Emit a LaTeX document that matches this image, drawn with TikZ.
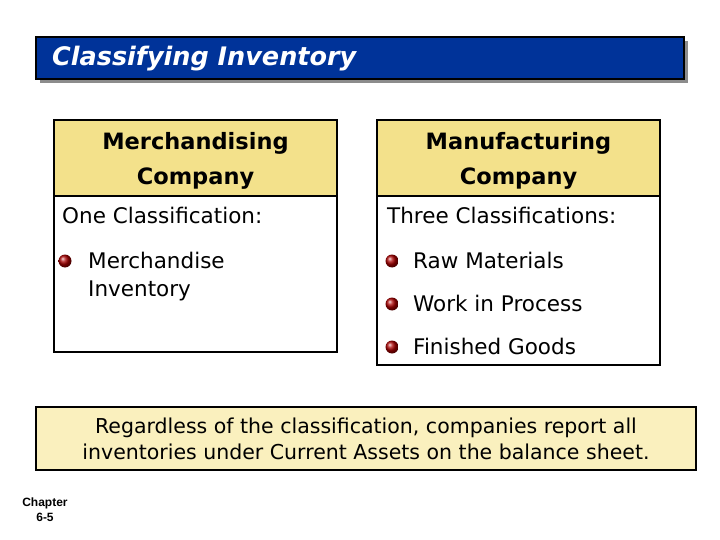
\documentclass[tikz,border=0pt]{standalone}
\usepackage{fontspec}
\setmainfont{DejaVu Sans}
\newfontfamily\chapfont{Liberation Sans}
\usepackage{tikz}
\usetikzlibrary{shadows}
\definecolor{titleblue}{RGB}{0,51,153}
\definecolor{hdryellow}{RGB}{243,225,139}
\definecolor{notebg}{RGB}{250,240,190}
\definecolor{bulletred}{RGB}{170,0,0}

\begin{document}
\begin{tikzpicture}[x=1pt, y=-1pt,
    every node/.style={inner sep=0pt},
    titlebar/.style={draw=black, line width=1.5pt, fill=titleblue,
                     minimum width=648pt, minimum height=42pt,
                     drop shadow={shadow xshift=4pt, shadow yshift=-4pt, fill=gray!90, opacity=1}},
    hdr/.style={draw, line width=2pt, fill=hdryellow, minimum width=283pt,
                minimum height=76pt},
    hdrtext/.style={align=center, font=\fontsize{22.5}{35}\selectfont\bfseries},
    body/.style={draw, line width=2pt, fill=white, minimum width=283pt},
    item/.style={anchor=west, align=left, font=\fontsize{21.5}{28}\selectfont},
    bullet/.style={circle, minimum size=13pt, shading=ball, ball color=bulletred},
    note/.style={draw, line width=2pt, fill=notebg, minimum width=660pt,
                 minimum height=63pt, align=center, font=\fontsize{20.5}{26}\selectfont},
]
    \useasboundingbox (0,0) rectangle (720,540);

    % Title
    \node[titlebar] (title) at (360,58) {};
    \node[anchor=west, text=white, font=\fontsize{25.5}{30}\selectfont\bfseries\itshape]
        (titletext) at (52,59) {Classifying Inventory};

    % Left column: merchandising
    \node[body, minimum height=156pt] (mbody) at (195.5,274) {};
    \node[hdr] (mhdr) at (195.5,158) {};
    \node[hdrtext] (mhdrtext) at (195.5,161) {Merchandising\\Company};
    \node[item] (mone) at (62,215) {One Classification:};
    \node[bullet] (mb1) at (65,261) {};
    \node[item] (mmerch) at (88,277) {Merchandise\\Inventory};

    % Right column: manufacturing
    \node[body, minimum height=170pt] (fbody) at (518.5,280) {};
    \node[hdr] (fhdr) at (518.5,158) {};
    \node[hdrtext] (fhdrtext) at (518.5,161) {Manufacturing\\Company};
    \node[item] (fthree) at (387,215) {Three Classifications:};
    \node[bullet] (fb1) at (392,261) {};
    \node[item] (fraw) at (413,260) {Raw Materials};
    \node[bullet] (fb2) at (392,304) {};
    \node[item] (fwip) at (413,303) {Work in Process};
    \node[bullet] (fb3) at (392,347) {};
    \node[item] (ffin) at (413,346) {Finished Goods};

    % Bottom note
    \node[note] (note) at (366,438.5) {Regardless of the classification, companies report all\\
        inventories under Current Assets on the balance sheet.};

    % Chapter tag
    \node[align=center, font=\chapfont\fontsize{12}{15}\selectfont\bfseries] (chap) at (45,510) {Chapter\\6-5};
\end{tikzpicture}
\end{document}
